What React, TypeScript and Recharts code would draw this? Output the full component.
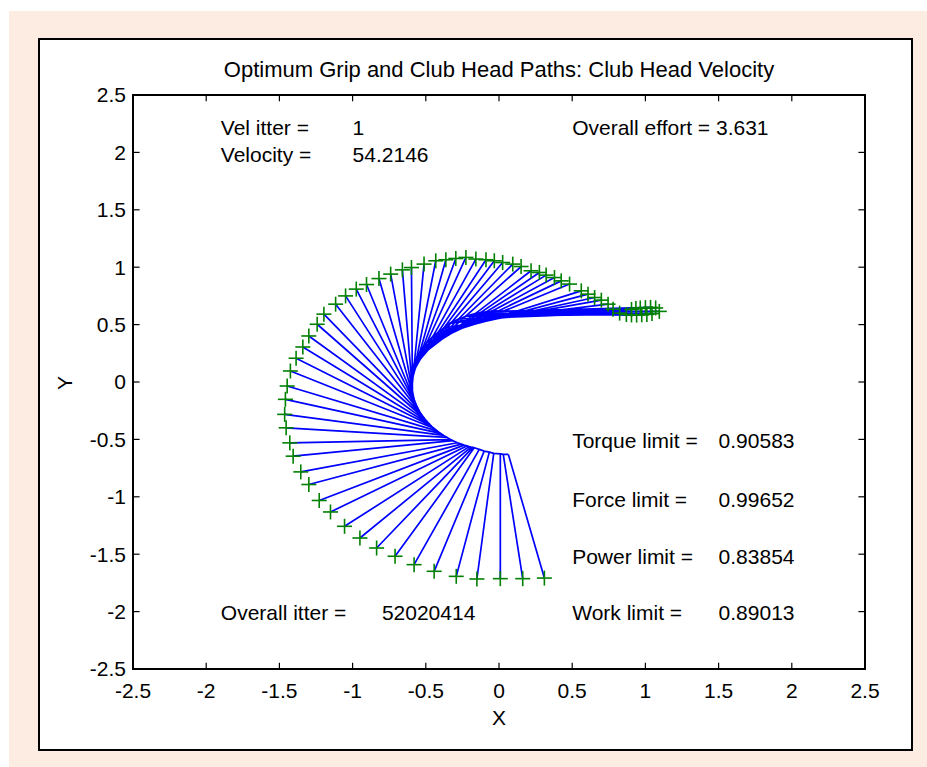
import { ComposedChart, Line, Scatter, XAxis, YAxis, ReferenceDot, ReferenceArea, ReferenceLine } from 'recharts';

// grip (hands) positions, one per frame
const gripX = [
  0.064, 0.029, 0.009, -0.036, -0.066, -0.101, -0.135, -0.169, -0.178, -0.19,
  -0.203, -0.22, -0.239, -0.258, -0.284, -0.314, -0.33, -0.357, -0.379, -0.4,
  -0.42, -0.445, -0.46, -0.472, -0.491, -0.509, -0.529, -0.541, -0.553, -0.562,
  -0.566, -0.575, -0.581, -0.588, -0.591, -0.596, -0.599, -0.6, -0.6, -0.598,
  -0.597, -0.594, -0.59, -0.586, -0.579, -0.573, -0.566, -0.553, -0.544, -0.527,
  -0.514, -0.493, -0.46, -0.434, -0.407, -0.374, -0.34, -0.314, -0.274, -0.23,
  -0.195, -0.16, -0.125, -0.09, -0.055, -0.021, -0.044, -0.079, -0.109, -0.138,
  -0.168, -0.193,
];
const gripY = [
  -0.631, -0.631, -0.626, -0.622, -0.611, -0.602, -0.587, -0.573, -0.57, -0.567,
  -0.563, -0.557, -0.55, -0.541, -0.529, -0.511, -0.502, -0.482, -0.465, -0.447,
  -0.428, -0.403, -0.386, -0.371, -0.345, -0.318, -0.284, -0.26, -0.232, -0.211,
  -0.198, -0.172, -0.149, -0.121, -0.103, -0.07, -0.031, -0.009, 0.019, 0.05,
  0.062, 0.088, 0.108, 0.127, 0.157, 0.178, 0.199, 0.232, 0.253, 0.287,
  0.309, 0.343, 0.386, 0.414, 0.441, 0.47, 0.51, 0.526, 0.549, 0.571,
  0.585, 0.595, 0.604, 0.61, 0.615, 0.618, 0.615, 0.612, 0.607, 0.601,
  0.593, 0.585,
];

// club head positions, same frames
const headX = [
  0.31, 0.162, 0.009, -0.151, -0.292, -0.443, -0.58, -0.71, -0.836, -0.95,
  -1.055, -1.151, -1.228, -1.299, -1.354, -1.406, -1.429, -1.454, -1.464, -1.459,
  -1.447, -1.425, -1.386, -1.34, -1.299, -1.242, -1.196, -1.116, -1.048, -0.975,
  -0.905, -0.82, -0.74, -0.66, -0.598, -0.512, -0.432, -0.363, -0.295, -0.226,
  -0.158, -0.089, -0.032, 0.025, 0.094, 0.151, 0.219, 0.276, 0.322, 0.379,
  0.425, 0.482, 0.562, 0.608, 0.653, 0.699, 0.745, 0.779, 0.824, 0.87,
  0.905, 0.94, 0.975, 1.01, 1.045, 1.095, 1.07, 1.035, 1.0, 0.965,
  0.935, 0.905,
];
const headY = [
  -1.708, -1.713, -1.713, -1.716, -1.693, -1.649, -1.591, -1.518, -1.446, -1.359,
  -1.257, -1.132, -1.032, -0.893, -0.783, -0.646, -0.53, -0.399, -0.282, -0.151,
  -0.035, 0.096, 0.207, 0.305, 0.401, 0.503, 0.591, 0.678, 0.75, 0.809,
  0.849, 0.901, 0.94, 0.977, 0.997, 1.027, 1.056, 1.065, 1.076, 1.085,
  1.071, 1.065, 1.056, 1.041, 1.027, 1.006, 0.969, 0.954, 0.931, 0.91,
  0.881, 0.853, 0.794, 0.765, 0.736, 0.713, 0.678, 0.634, 0.6, 0.588,
  0.584, 0.583, 0.585, 0.589, 0.596, 0.615, 0.645, 0.65, 0.648, 0.645,
  0.64, 0.632,
];

const axisTicks = [-2.5, -2, -1.5, -1, -0.5, 0, 0.5, 1, 1.5, 2, 2.5];

// text annotations placed in data coordinates
const noteText = [
  'Vel itter =', '1', 'Velocity =', '54.2146', 'Overall effort = 3.631',
  'Torque limit =', '0.90583', 'Force limit =', '0.99652', 'Power limit =', '0.83854',
  'Work limit =', '0.89013', 'Overall itter =', '52020414',
];
const noteX = [-1.9, -1.0, -1.9, -1.0, 0.5, 0.5, 1.5, 0.5, 1.5, 0.5, 1.5, 0.5, 1.5, -1.9, -0.8];
const noteY = [2.22, 2.22, 1.98, 1.98, 2.22, -0.51, -0.51, -1.02, -1.02, -1.52, -1.52, -2.01, -2.01, -2.01, -2.01];

const FONT = '"Liberation Sans", Arial, Helvetica, sans-serif';
const LO = -2.5;
const HI = 2.5;
// inward tick length, in axis units
const TICK_X = 0.045;
const TICK_Y = 0.055;

// each club drawn as its own segment: grip -> head, then a null gap
const clubSegments = headX.flatMap((hx, i) => [
  { x: gripX[i], y: gripY[i] },
  { x: hx, y: headY[i] },
  { x: hx, y: null },
]);
const gripPath = gripX.map((x, i) => ({ x, y: gripY[i] }));
const heads = headX.map((x, i) => ({ x, y: headY[i] }));

function PlusMarker(props: any) {
  const { cx, cy } = props;
  if (cx == null || cy == null) return <g />;
  const s = 7.5;
  return (
    <g stroke="#008000" strokeWidth={1.6}>
      <line x1={cx - s} y1={cy} x2={cx + s} y2={cy} />
      <line x1={cx} y1={cy - s} x2={cx} y2={cy + s} />
    </g>
  );
}

const tickStyle = { fontSize: 21, fill: '#000', fontFamily: FONT };
const tickStroke = { stroke: '#000', strokeWidth: 1.2 };

export default function App() {
  return (
    <div style={{ position: 'absolute', left: 0, top: 0, width: 927, height: 767, background: '#fff', fontFamily: FONT }}>
      <div style={{ position: 'absolute', left: 9, top: 11, right: 0, bottom: 0, background: '#fdece2' }} />
      <div
        style={{
          position: 'absolute',
          left: 38,
          top: 38,
          width: 875,
          height: 713,
          background: '#fff',
          border: '2px solid #000',
          boxSizing: 'border-box',
        }}
      />
      <div
        style={{
          position: 'absolute',
          left: 133,
          width: 732,
          top: 57,
          textAlign: 'center',
          fontSize: 22,
          lineHeight: '26px',
          color: '#000',
        }}
      >
        Optimum Grip and Club Head Paths: Club Head Velocity
      </div>
      <div style={{ position: 'absolute', left: 133, width: 732, top: 706, textAlign: 'center', fontSize: 21, lineHeight: '24px' }}>
        X
      </div>
      <div
        style={{
          position: 'absolute',
          left: 53,
          top: 371,
          width: 24,
          height: 24,
          textAlign: 'center',
          fontSize: 21,
          lineHeight: '24px',
          transform: 'rotate(-90deg)',
        }}
      >
        Y
      </div>
      <div style={{ position: 'absolute', left: 0, top: 0 }}>
        <ComposedChart width={927} height={767} margin={{ top: 95, right: 62, bottom: 58, left: 73 }}>
          <XAxis
            dataKey="x"
            type="number"
            domain={[LO, HI]}
            ticks={axisTicks}
            allowDataOverflow
            height={40}
            tickSize={-6}
            tickMargin={20}
            tick={tickStyle}
            axisLine={false}
            tickLine={false}
            interval={0}
          />
          <YAxis
            dataKey="y"
            type="number"
            domain={[LO, HI]}
            ticks={axisTicks}
            allowDataOverflow
            width={60}
            tickSize={-6}
            tickMargin={13}
            tick={tickStyle}
            axisLine={false}
            tickLine={false}
            interval={0}
          />
          <ReferenceArea x1={LO} x2={HI} y1={LO} y2={HI} fill="none" fillOpacity={0} stroke="#000" strokeWidth={2} ifOverflow="visible" />
          {axisTicks.map((t) => (
            <ReferenceLine key={`b${t}`} segment={[{ x: t, y: LO }, { x: t, y: LO + TICK_Y }]} {...tickStroke} ifOverflow="visible" />
          ))}
          {axisTicks.map((t) => (
            <ReferenceLine key={`t${t}`} segment={[{ x: t, y: HI }, { x: t, y: HI - TICK_Y }]} {...tickStroke} ifOverflow="visible" />
          ))}
          {axisTicks.map((t) => (
            <ReferenceLine key={`l${t}`} segment={[{ x: LO, y: t }, { x: LO + TICK_X, y: t }]} {...tickStroke} ifOverflow="visible" />
          ))}
          {axisTicks.map((t) => (
            <ReferenceLine key={`r${t}`} segment={[{ x: HI, y: t }, { x: HI - TICK_X, y: t }]} {...tickStroke} ifOverflow="visible" />
          ))}
          <Scatter data={heads} dataKey="y" shape={PlusMarker} isAnimationActive={false} />
          <Line
            data={clubSegments}
            dataKey="y"
            stroke="#0000ff"
            strokeWidth={1.7}
            dot={false}
            activeDot={false}
            connectNulls={false}
            isAnimationActive={false}
          />
          <Line
            data={gripPath}
            dataKey="y"
            stroke="#0000ff"
            strokeWidth={1.7}
            dot={false}
            activeDot={false}
            isAnimationActive={false}
          />
          {noteText.map((t, i) => (
            <ReferenceDot
              key={i}
              x={noteX[i]}
              y={noteY[i]}
              r={0}
              ifOverflow="visible"
              shape={(p: any) => (
                <text x={p.cx} y={p.cy} dominantBaseline="central" fontSize={21} fontFamily={FONT} fill="#000">
                  {t}
                </text>
              )}
            />
          ))}
        </ComposedChart>
      </div>
    </div>
  );
}
